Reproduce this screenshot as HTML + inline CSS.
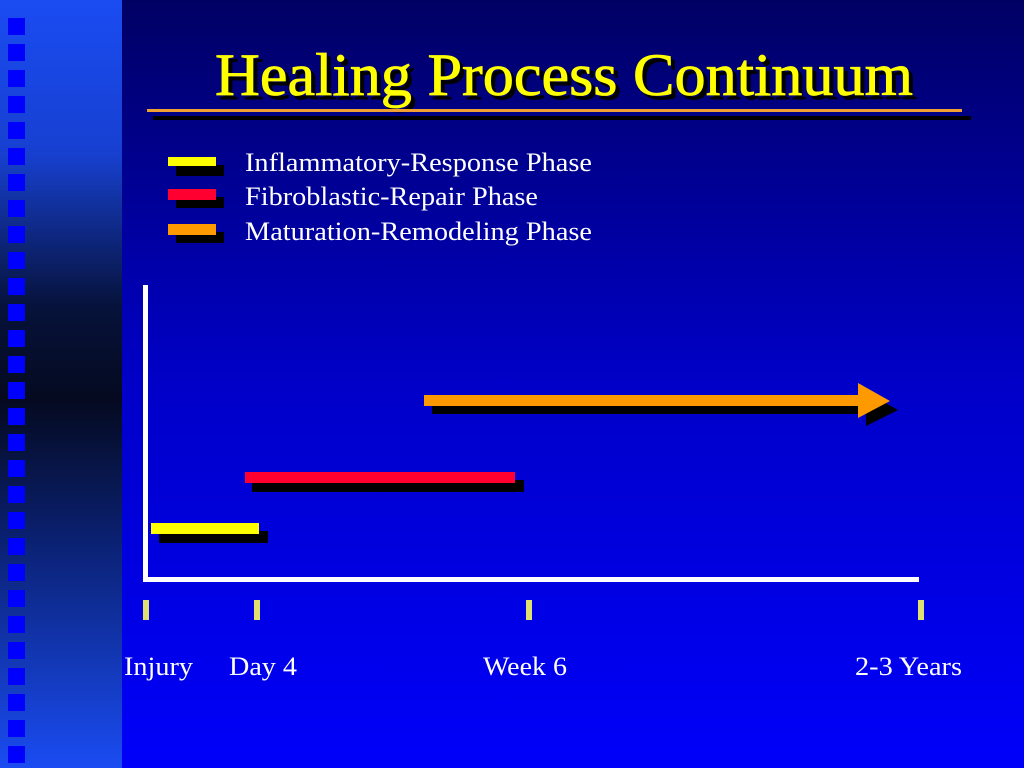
<!DOCTYPE html>
<html><head><meta charset="utf-8"><style>
html,body{margin:0;padding:0;width:1024px;height:768px;overflow:hidden}
</style></head><body>
<svg width="1024" height="768" xmlns="http://www.w3.org/2000/svg" font-family="Liberation Serif, serif">
<defs>
<linearGradient id="bg" x1="0" y1="0" x2="0" y2="1">
<stop offset="0" stop-color="#000064"/>
<stop offset="0.5" stop-color="#0000c8"/>
<stop offset="1" stop-color="#0000fa"/>
</linearGradient>
<linearGradient id="strip" x1="0" y1="0" x2="0" y2="1">
<stop offset="0" stop-color="#1a4cf2"/>
<stop offset="0.2" stop-color="#1740d0"/>
<stop offset="0.4" stop-color="#06123a"/>
<stop offset="0.52" stop-color="#050a20"/>
<stop offset="0.7" stop-color="#0a2070"/>
<stop offset="1" stop-color="#1a4cf2"/>
</linearGradient>
</defs>
<rect width="1024" height="768" fill="url(#bg)"/>
<rect width="122" height="768" fill="url(#strip)"/>
<g fill="#0000ff">
<rect x="8" y="18" width="17" height="17"/><rect x="8" y="44" width="17" height="17"/><rect x="8" y="70" width="17" height="17"/><rect x="8" y="96" width="17" height="17"/><rect x="8" y="122" width="17" height="17"/><rect x="8" y="148" width="17" height="17"/><rect x="8" y="174" width="17" height="17"/><rect x="8" y="200" width="17" height="17"/><rect x="8" y="226" width="17" height="17"/><rect x="8" y="252" width="17" height="17"/><rect x="8" y="278" width="17" height="17"/><rect x="8" y="304" width="17" height="17"/><rect x="8" y="330" width="17" height="17"/><rect x="8" y="356" width="17" height="17"/><rect x="8" y="382" width="17" height="17"/><rect x="8" y="408" width="17" height="17"/><rect x="8" y="434" width="17" height="17"/><rect x="8" y="460" width="17" height="17"/><rect x="8" y="486" width="17" height="17"/><rect x="8" y="512" width="17" height="17"/><rect x="8" y="538" width="17" height="17"/><rect x="8" y="564" width="17" height="17"/><rect x="8" y="590" width="17" height="17"/><rect x="8" y="616" width="17" height="17"/><rect x="8" y="642" width="17" height="17"/><rect x="8" y="668" width="17" height="17"/><rect x="8" y="694" width="17" height="17"/><rect x="8" y="720" width="17" height="17"/><rect x="8" y="746" width="17" height="17"/>
</g>
<text x="219" y="99" font-size="60" fill="#000" stroke="#000" stroke-width="1" textLength="698" lengthAdjust="spacingAndGlyphs">Healing Process Continuum</text>
<text x="215" y="95" font-size="60" fill="#ffff00" stroke="#ffff00" stroke-width="0.8" textLength="698" lengthAdjust="spacingAndGlyphs">Healing Process Continuum</text>
<rect x="153" y="116" width="818" height="4" fill="#000"/>
<rect x="147" y="109" width="815" height="3" fill="#f0a030"/>
<rect x="176" y="165" width="48" height="11" fill="#000"/><rect x="168" y="157" width="48" height="9" fill="#ffff00"/>
<rect x="176" y="197" width="48" height="11" fill="#000"/><rect x="168" y="189" width="48" height="11" fill="#ff0030"/>
<rect x="176" y="232" width="48" height="11" fill="#000"/><rect x="168" y="224" width="48" height="11" fill="#ff9900"/>
<g fill="#fff" font-size="26">
<text x="245" y="171" textLength="347" lengthAdjust="spacingAndGlyphs">Inflammatory-Response Phase</text>
<text x="245" y="205" textLength="293" lengthAdjust="spacingAndGlyphs">Fibroblastic-Repair Phase</text>
<text x="245" y="240" textLength="347" lengthAdjust="spacingAndGlyphs">Maturation-Remodeling Phase</text>
</g>
<rect x="143" y="285" width="5" height="297" fill="#fff"/>
<rect x="148" y="577" width="771" height="5" fill="#fff"/>
<g fill="#e0e070">
<rect x="143" y="600" width="6" height="20"/><rect x="254" y="600" width="6" height="20"/><rect x="526" y="600" width="6" height="20"/><rect x="918" y="600" width="6" height="20"/>
</g>
<rect x="159" y="531" width="109" height="12" fill="#000"/><rect x="151" y="523" width="108" height="11" fill="#ffff00"/>
<rect x="252" y="480" width="272" height="12" fill="#000"/><rect x="245" y="472" width="270" height="11" fill="#ff0030"/>
<polygon points="432,404 866,404 866,392 898,410 866,426 866,414 432,414" fill="#000"/>
<polygon points="424,395 858,395 858,383 890,401 858,418 858,406 424,406" fill="#ff9900"/>
<g fill="#fff" font-size="26">
<text x="124" y="675" textLength="69" lengthAdjust="spacingAndGlyphs">Injury</text>
<text x="229" y="675" textLength="68" lengthAdjust="spacingAndGlyphs">Day 4</text>
<text x="483" y="675" textLength="84" lengthAdjust="spacingAndGlyphs">Week 6</text>
<text x="855" y="675" textLength="107" lengthAdjust="spacingAndGlyphs">2-3 Years</text>
</g>
</svg>
</body></html>
